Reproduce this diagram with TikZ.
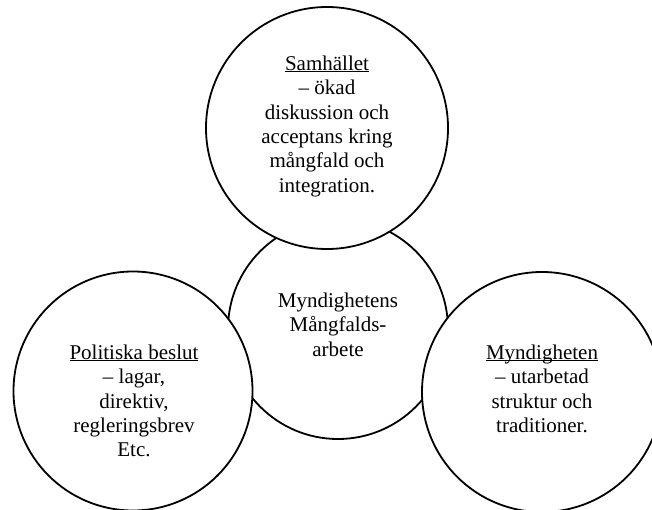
\documentclass[tikz,border=0pt]{standalone}
\usepackage{fontspec}
\setmainfont{Liberation Serif}
\usepackage{tikz}
\newcommand{\ul}[1]{\underline{\smash{#1}}\vphantom{#1}}

\begin{document}
\begin{tikzpicture}[x=1pt,y=-1pt,
  ring/.style={circle,draw=black,fill=white,line width=1.8pt,inner sep=0pt},
  txt/.style={align=center,inner sep=0pt,anchor=north,font=\fontsize{21}{24.4}\selectfont}]
  \useasboundingbox (0,0) rectangle (652,510);
  \clip (0,0) rectangle (652,510);
%% circles, middle one first so the others lie over it
  \node[ring,minimum size=220pt] (arbete) at (338,329) {};
  \node[ring,minimum size=242pt] (samhallet) at (327,128) {};
  \node[ring,minimum size=239pt] (politik) at (133,391) {};
  \node[ring,minimum size=240pt] (myndighet) at (542,392) {};
  \node[txt] (arbete-txt) at (338,292.5) {Myndighetens\\Mångfalds-\\arbete};
  \node[txt] (samhallet-txt) at (327,55.5) {\ul{Samhället}\\– ökad\\diskussion och\\acceptans kring\\mångfald och\\integration.};
  \node[txt] (politik-txt) at (134,344.5) {\ul{Politiska beslut}\\– lagar,\\direktiv,\\regleringsbrev\\Etc.};
  \node[txt] (myndighet-txt) at (542,344.5) {\ul{Myndigheten}\\– utarbetad\\struktur och\\traditioner.};
\end{tikzpicture}
\end{document}
